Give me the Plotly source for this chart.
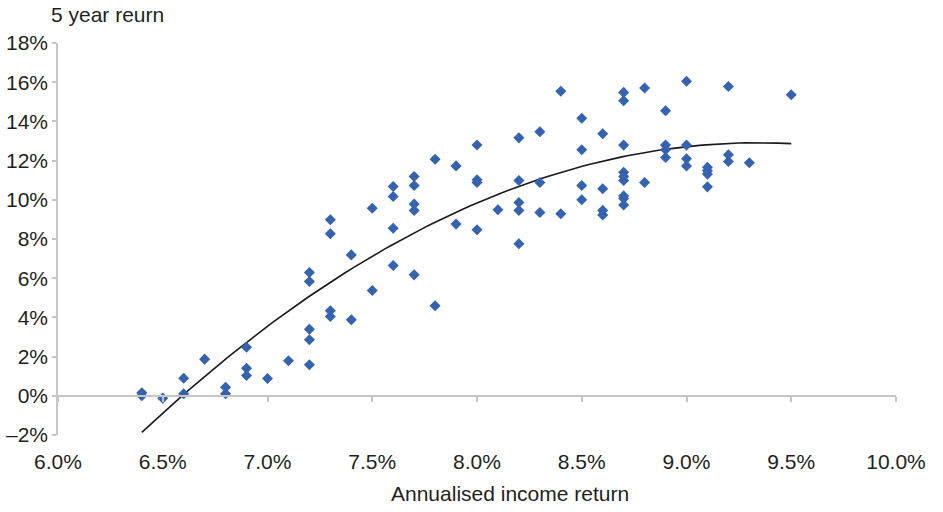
import numpy as np
import plotly.graph_objects as go

# Annualised income return (%) and 5-year return (%)
income_return = [
    6.4, 6.4, 6.5, 6.6, 6.6, 6.7, 6.8, 6.8, 6.9, 6.9, 6.9, 7.0, 7.1,
    7.2, 7.2, 7.2, 7.2, 7.2, 7.3, 7.3, 7.3, 7.3, 7.4, 7.4, 7.5, 7.5,
    7.6, 7.6, 7.6, 7.6, 7.7, 7.7, 7.7, 7.7, 7.7, 7.8, 7.8, 7.9, 7.9,
    8.0, 8.0, 8.0, 8.0, 8.1, 8.2, 8.2, 8.2, 8.2, 8.2, 8.3, 8.3, 8.3,
    8.4, 8.4, 8.5, 8.5, 8.5, 8.5, 8.6, 8.6, 8.6, 8.6,
    8.7, 8.7, 8.7, 8.7, 8.7, 8.7, 8.7, 8.7, 8.7, 8.8, 8.8,
    8.9, 8.9, 8.9, 8.9, 9.0, 9.0, 9.0, 9.0, 9.1, 9.1, 9.1, 9.1,
    9.2, 9.2, 9.2, 9.3, 9.5,
]
five_year_return = [
    0.15, 0.0, -0.12, 0.9, 0.1, 1.87, 0.44, 0.1, 2.48, 1.41, 1.04, 0.88, 1.79,
    6.29, 5.83, 3.4, 2.86, 1.58, 8.98, 8.27, 4.34, 4.05, 7.19, 3.88, 9.57, 5.37,
    10.68, 10.17, 8.55, 6.65, 11.19, 10.73, 9.78, 9.46, 6.17, 12.07, 4.59, 11.73, 8.76,
    12.8, 11.02, 10.88, 8.47, 9.49, 13.16, 10.98, 9.86, 9.46, 7.76, 13.47, 10.88, 9.35,
    15.54, 9.29, 14.16, 12.55, 10.73, 10.0, 13.37, 10.56, 9.46, 9.23,
    15.48, 15.05, 12.79, 11.4, 11.19, 10.98, 10.2, 10.07, 9.73, 15.7, 10.88,
    14.54, 12.79, 12.55, 12.16, 16.05, 12.79, 12.09, 11.73, 11.66, 11.48, 11.31, 10.66,
    15.78, 12.3, 11.95, 11.89, 15.36,
]

x_tick_vals = [6.0, 6.5, 7.0, 7.5, 8.0, 8.5, 9.0, 9.5, 10.0]
x_tick_text = ["6.0%", "6.5%", "7.0%", "7.5%", "8.0%", "8.5%", "9.0%", "9.5%", "10.0%"]
y_tick_vals = [-2, 0, 2, 4, 6, 8, 10, 12, 14, 16, 18]
y_tick_text = ["\u20132%", "0%", "2%", "4%", "6%", "8%", "10%", "12%", "14%", "16%", "18%"]

# Polynomial (order 2) trendline from the data
coef = np.polyfit(income_return, five_year_return, 2)
tx = np.linspace(min(income_return), max(income_return), 100)
ty = np.polyval(coef, tx)

FONT = "Liberation Sans, Arial, sans-serif"
AXIS_GREY = "#c6c6c6"

fig = go.Figure()
fig.add_trace(go.Scatter(
    x=tx, y=ty, mode="lines",
    line=dict(color="#1a1a1a", width=1.6),
    hoverinfo="skip", showlegend=False,
))
fig.add_trace(go.Scatter(
    x=income_return, y=five_year_return, mode="markers",
    marker=dict(symbol="diamond", size=8.5, color="#3563b0",
                line=dict(width=0)),
    showlegend=False,
))
# helper trace on overlay axis so the axis line at y=0 renders
fig.add_trace(go.Scatter(x=[None], y=[None], xaxis="x2", yaxis="y",
                         showlegend=False, hoverinfo="skip"))

fig.update_layout(
    width=943, height=512,
    margin=dict(l=58, r=47, t=43, b=77),
    paper_bgcolor="white", plot_bgcolor="white",
    font=dict(family=FONT, size=21, color="#231f20"),
    xaxis=dict(
        range=[6.0, 10.0], tickvals=x_tick_vals, ticktext=x_tick_text,
        showgrid=False, zeroline=False, showline=False, automargin=False,
        ticks="outside", ticklen=8, tickcolor="rgba(0,0,0,0)",
        tickfont=dict(size=21),
    ),
    xaxis2=dict(
        range=[6.0, 10.0], overlaying="x", anchor="free", position=0.1,
        tickvals=x_tick_vals, showticklabels=False, automargin=False,
        showgrid=False, zeroline=False, showline=True, linecolor=AXIS_GREY,
        linewidth=1.5, ticks="outside", ticklen=5, tickcolor=AXIS_GREY, tickwidth=1.5,
    ),
    yaxis=dict(
        range=[-2, 18], tickvals=y_tick_vals, ticktext=y_tick_text, automargin=False,
        showgrid=False, zeroline=False, showline=True, linecolor=AXIS_GREY,
        linewidth=1.5, ticks="outside", ticklen=4, tickcolor=AXIS_GREY, tickwidth=1.5,
        tickfont=dict(size=21),
    ),
    annotations=[
        dict(text="5 year reurn", xref="paper", yref="paper",
             x=-0.0105, y=1.072, xanchor="left", yanchor="middle",
             showarrow=False, font=dict(size=21)),
        dict(text="Annualised income return", xref="paper", yref="paper",
             x=0.539, y=-0.148, xanchor="center", yanchor="middle",
             showarrow=False, font=dict(size=21)),
    ],
)

fig.write_html("out.html", config={"displayModeBar": False},
               post_script="document.body.style.margin='0';")
